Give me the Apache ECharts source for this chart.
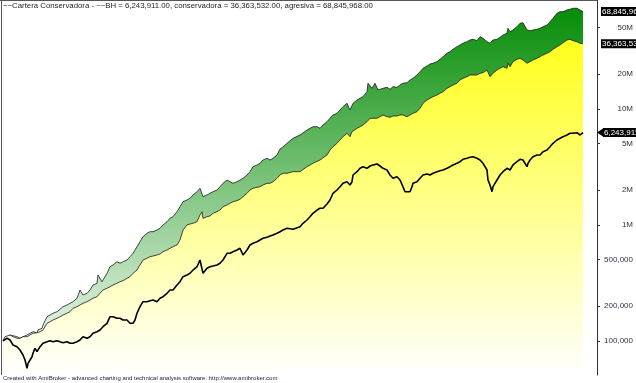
<!DOCTYPE html>
<html><head><meta charset="utf-8">
<script src="https://cdn.jsdelivr.net/npm/echarts@6/dist/echarts.min.js"></script>
<style>html,body{margin:0;padding:0;background:#fff}#c{width:636px;height:383px}</style>
</head><body><div id="c"></div>
<script>
const titleText = '~~Cartera Conservadora - ~~BH = 6,243,911.00, conservadora = 36,363,532.00, agresiva = 68,845,968.00';
const footerText = 'Created with AmiBroker - advanced charting and technical analysis software. http://www.amibroker.com';
const yTicks = [100000, 200000, 500000, 1000000, 2000000, 5000000, 10000000, 20000000, 50000000];
const lastLabels = { bh: '6,243,911', conservadora: '36,363,532', agresiva: '68,845,968' };

// [bar index, equity]
const bhData = [[0,100000],[4,105100],[7,101600],[10,92000],[14,88950],[17,83330],[20,75430],[22,68300],[24,57930],[25,63970],[27,66040],[29,72930],[30,78030],[32,86170],[34,80540],[35,83330],[37,88950],[40,95150],[44,98200],[47,100200],[50,98200],[54,100200],[57,98200],[60,96300],[64,98200],[67,95150],[69,92000],[70,95150],[74,98200],[77,101600],[80,108500],[84,105100],[87,108500],[90,116100],[94,119800],[97,123900],[100,132300],[104,141500],[107,161400],[110,161400],[114,156300],[117,156300],[120,151100],[124,151100],[127,141500],[130,141500],[132,151100],[134,172700],[137,196800],[140,217400],[144,217400],[147,221700],[150,224700],[154,217400],[157,232500],[160,240000],[164,256700],[167,274100],[170,274100],[174,302700],[177,323200],[180,356900],[184,369100],[187,381800],[190,407600],[194,435200],[197,497300],[199,514300],[200,381800],[202,394100],[204,421700],[207,435200],[214,450200],[217,465700],[220,497300],[224,567800],[227,567800],[230,586200],[234,606400],[237,627100],[240,549100],[244,606400],[247,669800],[250,692700],[254,715000],[257,739600],[260,764900],[264,780200],[267,800600],[270,816800],[274,844800],[277,872000],[280,902000],[284,933000],[290,914700],[297,963000],[300,1030000],[304,1100000],[307,1174000],[310,1256000],[314,1341000],[317,1388000],[320,1388000],[324,1511000],[327,1636000],[330,1869000],[334,1995000],[337,2130000],[340,2279000],[344,2352000],[347,2203000],[349,2352000],[350,2687000],[354,2870000],[357,3070000],[360,3170000],[364,3070000],[367,3213000],[370,3278000],[374,3343000],[377,3213000],[380,3070000],[384,2968000],[387,2687000],[390,2518000],[394,2599000],[397,2432000],[400,2130000],[402,1929000],[404,1995000],[407,1929000],[409,2130000],[410,2279000],[414,2352000],[417,2518000],[420,2687000],[424,2741000],[427,2687000],[430,2780000],[434,2870000],[437,2926000],[440,2968000],[444,3070000],[447,3170000],[450,3278000],[454,3390000],[457,3499000],[460,3670000],[464,3743000],[467,3818000],[470,3864000],[474,3743000],[477,3619000],[480,3390000],[484,2968000],[485,2432000],[487,2203000],[489,1929000],[490,2130000],[494,2432000],[497,2687000],[500,2870000],[504,3070000],[507,2968000],[510,3278000],[514,3499000],[517,3670000],[520,3619000],[524,3170000],[525,3390000],[527,3619000],[530,3864000],[534,3996000],[537,3996000],[540,4268000],[544,4414000],[547,4713000],[550,5042000],[554,5383000],[557,5568000],[560,5747000],[564,5944000],[567,6148000],[570,6148000],[574,6223000],[577,5944000],[579,5827000],[580,6243911]];

const conservadoraData = [[0,100000],[2,108500],[7,112200],[10,108500],[14,105100],[17,105100],[20,108500],[24,108500],[27,112200],[30,116100],[34,117400],[37,119800],[40,123900],[44,141500],[47,146100],[50,151100],[54,156300],[57,161400],[60,166900],[64,172700],[67,178200],[70,190600],[74,196800],[77,203500],[80,210500],[84,217400],[87,224700],[90,232500],[94,240000],[97,256700],[100,274100],[104,283600],[107,292700],[110,302700],[114,313100],[117,323200],[120,329700],[124,345800],[127,356900],[130,381800],[134,407600],[137,450200],[140,497300],[144,514300],[147,530900],[150,538300],[154,549100],[157,560000],[160,586200],[164,606400],[167,627100],[170,647500],[174,669800],[177,739600],[180,900000],[184,998000],[187,1016000],[190,1030000],[194,1063000],[197,1215000],[199,1297000],[200,1138000],[202,1100000],[204,1174000],[207,1191000],[210,1256000],[214,1297000],[217,1341000],[220,1432000],[224,1481000],[227,1532000],[230,1582000],[234,1614000],[237,1659000],[240,1747000],[244,1869000],[247,1995000],[250,2064000],[254,2105000],[257,2130000],[260,2203000],[264,2279000],[267,2279000],[270,2352000],[274,2518000],[277,2687000],[280,2780000],[284,2780000],[290,2870000],[297,2870000],[304,3170000],[310,3390000],[317,3619000],[324,3996000],[327,4414000],[330,4713000],[334,5042000],[337,5383000],[340,5747000],[344,6148000],[347,5747000],[349,6347000],[350,6564000],[354,6790000],[357,7009000],[360,7249000],[364,7742000],[367,8281000],[370,8281000],[374,8281000],[377,8548000],[380,8842000],[384,8548000],[387,8446000],[390,8667000],[394,8667000],[397,8842000],[400,8842000],[404,8548000],[407,8842000],[410,9145000],[414,9441000],[417,10100000],[420,11150000],[424,11910000],[427,12320000],[430,12720000],[434,13150000],[437,13600000],[440,14040000],[444,15020000],[447,15510000],[450,16040000],[454,16590000],[457,17710000],[460,18320000],[464,18910000],[467,19560000],[470,19560000],[474,19560000],[477,20230000],[480,20470000],[484,21600000],[487,18910000],[490,20230000],[494,21600000],[497,22340000],[500,23060000],[504,22340000],[505,24680000],[507,23060000],[510,25470000],[514,26710000],[517,27240000],[520,26340000],[524,24680000],[527,25470000],[530,26340000],[534,27240000],[537,28120000],[540,29090000],[544,30090000],[547,31060000],[550,32580000],[554,34300000],[557,35480000],[560,37140000],[564,39190000],[567,39730000],[570,38650000],[574,37880000],[577,36700000],[580,36363532]];

const agresivaData = [[0,100000],[7,112200],[14,108500],[17,105100],[20,108500],[24,112200],[27,116100],[30,119800],[34,117400],[35,123900],[37,119800],[39,128200],[40,136800],[42,141500],[44,161400],[47,166900],[50,172700],[54,178200],[57,186900],[60,196800],[64,203500],[67,210500],[70,217400],[74,232500],[77,274100],[79,283600],[80,248200],[84,256700],[87,274100],[90,302700],[94,313100],[95,369100],[97,381800],[99,323200],[100,334300],[104,381800],[107,435200],[110,450200],[114,480800],[117,465700],[120,480800],[124,497300],[127,530900],[130,567800],[134,647500],[137,715000],[140,789700],[144,844800],[147,872000],[150,872000],[154,902000],[157,933000],[160,996000],[164,1063000],[167,1138000],[170,1174000],[174,1297000],[177,1432000],[180,1582000],[184,1636000],[187,1692000],[190,1807000],[194,1929000],[197,2064000],[199,2130000],[200,1747000],[202,1692000],[204,1807000],[207,1869000],[210,1929000],[214,1995000],[217,2130000],[220,2279000],[224,2432000],[227,2352000],[230,2279000],[234,2352000],[237,2432000],[240,2518000],[244,2687000],[247,2870000],[250,3170000],[254,3278000],[257,3390000],[260,3619000],[264,3743000],[267,3619000],[270,3743000],[274,3996000],[277,4500000],[280,4685000],[284,5042000],[290,5568000],[297,5944000],[304,6564000],[310,7009000],[314,7009000],[317,6790000],[320,7249000],[324,7742000],[327,8281000],[330,8842000],[334,9145000],[337,9765000],[340,10430000],[344,11150000],[347,9765000],[350,11150000],[354,11910000],[357,12320000],[360,12720000],[364,14040000],[365,16590000],[367,16040000],[369,15020000],[370,15510000],[372,16590000],[374,16040000],[375,14520000],[377,15020000],[380,15020000],[384,15320000],[387,14730000],[390,15510000],[394,15320000],[397,16040000],[400,16590000],[404,16790000],[407,17710000],[410,18320000],[414,19560000],[417,20880000],[420,22340000],[424,23390000],[427,24340000],[430,24680000],[434,25470000],[437,26710000],[440,28120000],[444,30090000],[447,31060000],[450,32580000],[454,34300000],[457,35480000],[460,36700000],[464,37880000],[467,39190000],[470,39730000],[474,38650000],[477,41830000],[480,40520000],[484,37880000],[487,36700000],[490,39190000],[494,39730000],[497,41330000],[500,43260000],[504,44750000],[505,49430000],[507,46190000],[510,47770000],[514,51030000],[517,54590000],[520,55240000],[524,47770000],[527,47110000],[530,47770000],[534,48430000],[537,49430000],[540,51030000],[544,52770000],[547,56360000],[550,60290000],[554,66580000],[557,68730000],[560,68730000],[564,71090000],[567,72090000],[570,73530000],[574,73530000],[577,71090000],[580,68845968]];

function fmt(v) {
  if (v >= 1e6) return Math.round(v / 1e6) + 'M';
  return String(Math.round(v)).replace(/\B(?=(\d{3})+(?!\d))/g, ',');
}
const FONT = 'Liberation Sans, Arial, sans-serif';
const grad = (c) => ({ type: 'linear', x: 0, y: 0, x2: 0, y2: 375, global: true,
  colorStops: [{ offset: 0, color: c }, { offset: 1, color: '#ffffff' }] });
const endLbl = (txt, dist) => ({ show: true, formatter: () => txt, backgroundColor: '#000', color: '#fff',
  fontSize: 8, fontFamily: FONT, padding: [1, 1, 0, 1], distance: dist, borderRadius: 0 });

const chart = echarts.init(document.getElementById('c'), null, { renderer: 'canvas' });
chart.setOption({
  animation: false,
  backgroundColor: '#ffffff',
  title: [
    { text: titleText, left: 3, top: 2, padding: 0, textStyle: { fontSize: 7.8, fontWeight: 'normal', color: '#1c1c2c', fontFamily: FONT } },
    { text: footerText, left: 3, top: 375, padding: 0, textStyle: { fontSize: 6, fontWeight: 'normal', color: '#1c1c3c', fontFamily: FONT } }
  ],
  grid: { left: 3, right: 39, top: 0, bottom: 8 },
  xAxis: { type: 'value', min: 0, max: 594, show: false },
  yAxis: {
    type: 'log', logBase: 10, position: 'right', min: 50730, max: 86660000,
    axisLine: { show: true, onZero: false, lineStyle: { color: '#333', width: 1 } },
    axisTick: { show: true, length: 3, customValues: yTicks, lineStyle: { color: '#333' } },
    axisLabel: { customValues: yTicks, formatter: fmt, align: 'right', margin: 36, fontSize: 8, color: '#303048', fontFamily: FONT },
    splitLine: { show: false }
  },
  graphic: [
    { type: 'line', shape: { x1: 1.5, y1: 0, x2: 1.5, y2: 375 }, style: { stroke: '#555', lineWidth: 1 } },
    { type: 'line', shape: { x1: 0, y1: 0.5, x2: 597, y2: 0.5 }, style: { stroke: '#555', lineWidth: 1 } }
  ],
  series: [
    { name: 'agresiva', type: 'line', data: agresivaData, showSymbol: false, z: 2,
      lineStyle: { color: '#1a1a1a', width: 0.8 }, areaStyle: { origin: 'start', color: grad('#008a00'), opacity: 1 },
      endLabel: endLbl(lastLabels.agresiva, 18) },
    { name: 'conservadora', type: 'line', data: conservadoraData, showSymbol: false, z: 3,
      lineStyle: { color: '#1a1a1a', width: 0.8 }, areaStyle: { origin: 'start', color: grad('#ffff00'), opacity: 1 },
      endLabel: endLbl(lastLabels.conservadora, 18) },
    { name: 'BH', type: 'line', data: bhData, showSymbol: false, z: 4,
      lineStyle: { color: '#000', width: 1.6 },
      endLabel: endLbl(lastLabels.bh, 20),
      markPoint: { silent: true, symbol: 'triangle', symbolSize: [8, 6], symbolRotate: 90, symbolOffset: [17, 0],
        itemStyle: { color: '#000' }, label: { show: false },
        data: [{ coord: bhData[bhData.length - 1] }] } }
  ]
});
</script></body></html>
